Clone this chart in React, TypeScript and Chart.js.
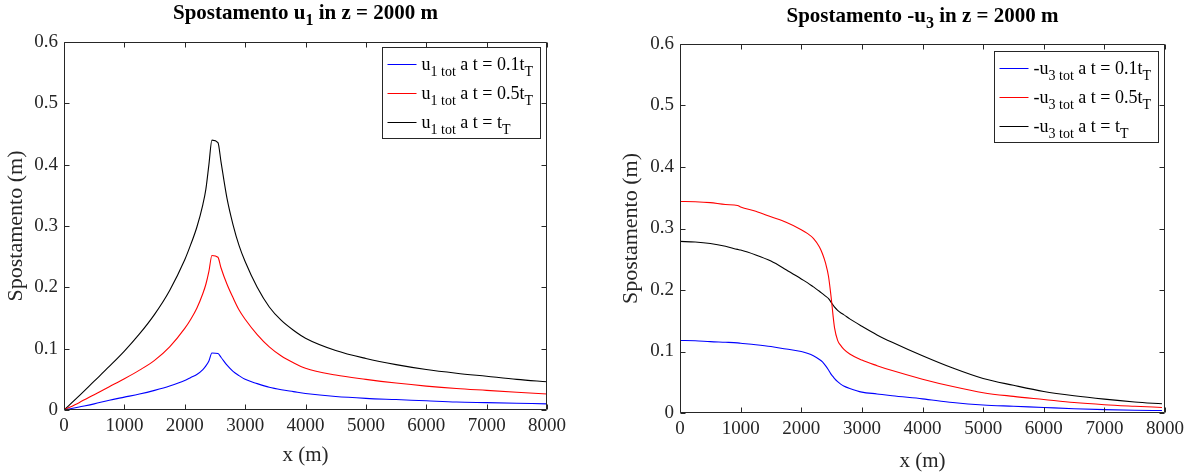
import React, { useEffect, useRef } from 'react';
import { Chart, registerables } from 'chart.js';
Chart.register(...registerables);

// ---------- DATA ----------
const xLeft = [0, 250, 500, 750, 1000, 1250, 1500, 1750, 2000, 2100, 2200, 2300, 2350, 2400, 2450, 2550, 2600, 2700, 2800, 2900, 3000, 3200, 3400, 3600, 3800, 4000, 4500, 5000, 5500, 6000, 6500, 7000, 7500, 8000];
const u1_01 = [0, 0.005, 0.010, 0.016, 0.021, 0.026, 0.032, 0.039, 0.048, 0.053, 0.058, 0.066, 0.072, 0.080, 0.093, 0.092, 0.086, 0.073, 0.063, 0.056, 0.050, 0.043, 0.037, 0.033, 0.030, 0.027, 0.022, 0.019, 0.017, 0.015, 0.013, 0.012, 0.011, 0.010];
const u1_05 = [0, 0.012, 0.025, 0.038, 0.051, 0.065, 0.081, 0.103, 0.133, 0.148, 0.166, 0.190, 0.205, 0.226, 0.252, 0.249, 0.232, 0.205, 0.183, 0.163, 0.148, 0.123, 0.103, 0.088, 0.077, 0.068, 0.057, 0.050, 0.044, 0.039, 0.035, 0.032, 0.029, 0.026];
const u1_10 = [0, 0.023, 0.047, 0.071, 0.096, 0.124, 0.156, 0.195, 0.245, 0.270, 0.298, 0.335, 0.360, 0.400, 0.440, 0.436, 0.405, 0.345, 0.302, 0.268, 0.242, 0.200, 0.168, 0.146, 0.130, 0.117, 0.097, 0.084, 0.074, 0.066, 0.060, 0.055, 0.050, 0.046];

const xRight = [0, 250, 500, 750, 950, 1000, 1250, 1500, 1750, 2000, 2100, 2200, 2300, 2350, 2400, 2450, 2500, 2525, 2550, 2600, 2650, 2700, 2800, 3000, 3250, 3500, 4000, 4500, 5000, 5500, 6000, 6500, 7000, 7500, 7950];
const u3_01 = [0.118, 0.1175, 0.116, 0.115, 0.114, 0.1135, 0.111, 0.108, 0.104, 0.100, 0.097, 0.093, 0.087, 0.083, 0.077, 0.070, 0.062, 0.059, 0.056, 0.051, 0.047, 0.044, 0.040, 0.034, 0.031, 0.028, 0.023, 0.017, 0.013, 0.011, 0.009, 0.007, 0.0055, 0.0045, 0.004];
const u3_05 = [0.344, 0.3435, 0.342, 0.339, 0.3375, 0.335, 0.328, 0.319, 0.310, 0.298, 0.292, 0.284, 0.270, 0.259, 0.244, 0.222, 0.182, 0.158, 0.138, 0.118, 0.110, 0.104, 0.096, 0.086, 0.077, 0.069, 0.055, 0.043, 0.033, 0.027, 0.022, 0.017, 0.0135, 0.011, 0.009];
const u3_10 = [0.279, 0.278, 0.2755, 0.271, 0.266, 0.265, 0.257, 0.247, 0.233, 0.218, 0.212, 0.205, 0.198, 0.194, 0.190, 0.186, 0.179, 0.1755, 0.172, 0.167, 0.163, 0.160, 0.153, 0.141, 0.127, 0.115, 0.093, 0.073, 0.056, 0.045, 0.035, 0.028, 0.0225, 0.018, 0.015];

const colors = ['#0000FF', '#FF0000', '#000000'];
const legendLeft = ['u_{1 tot} a t = 0.1t_T', 'u_{1 tot} a t = 0.5t_T', 'u_{1 tot} a t = t_T'];
const legendRight = ['-u_{3 tot} a t = 0.1t_T', '-u_{3 tot} a t = 0.5t_T', '-u_{3 tot} a t = t_T'];
const titleLeft = 'Spostamento u_1 in z = 2000 m';
const titleRight = 'Spostamento -u_3 in z = 2000 m';
const xTicks = [0, 1000, 2000, 3000, 4000, 5000, 6000, 7000, 8000];
const yTicks = [0, 0.1, 0.2, 0.3, 0.4, 0.5, 0.6];
const xLabel = 'x (m)';
const yLabel = 'Spostamento (m)';

// ---------- HELPERS ----------
const FONT = "'Liberation Serif', 'Times New Roman', serif";
const AX = '#262626';

type Seg = { t: string; sub: boolean };
function parseTex(s: string): Seg[] {
  const out: Seg[] = [];
  let i = 0;
  let buf = '';
  while (i < s.length) {
    if (s[i] === '_') {
      if (buf) { out.push({ t: buf, sub: false }); buf = ''; }
      if (s[i + 1] === '{') {
        const j = s.indexOf('}', i);
        out.push({ t: s.slice(i + 2, j), sub: true });
        i = j + 1;
      } else {
        out.push({ t: s[i + 1], sub: true });
        i += 2;
      }
    } else {
      buf += s[i];
      i++;
    }
  }
  if (buf) out.push({ t: buf, sub: false });
  return out;
}

function texWidth(ctx: CanvasRenderingContext2D, segs: Seg[], size: number, subSize: number, bold: boolean) {
  let w = 0;
  segs.forEach((s) => {
    ctx.font = `${bold ? 'bold ' : ''}${s.sub ? subSize : size}px ${FONT}`;
    w += ctx.measureText(s.t).width;
  });
  return w;
}

function drawTex(ctx: CanvasRenderingContext2D, segs: Seg[], x: number, y: number, size: number, subSize: number, bold: boolean, subDy: number, center: boolean) {
  const w = texWidth(ctx, segs, size, subSize, bold);
  let cx = center ? x - w / 2 : x;
  ctx.textAlign = 'left';
  ctx.textBaseline = 'alphabetic';
  segs.forEach((s) => {
    ctx.font = `${bold ? 'bold ' : ''}${s.sub ? subSize : size}px ${FONT}`;
    ctx.fillText(s.t, cx, y + (s.sub ? subDy : 0));
    cx += ctx.measureText(s.t).width;
  });
}

type Cfg = {
  xs: number[];
  series: number[][];
  legend: string[];
  title: string;
  width: number;
  yAxisW: number;
  xAxisH: number;
  padRight: number;
  padTop: number;
  yTitlePad: number;
  xTitlePad: number;
  titleY: number;
  legendTop: number;
};

function makeChart(canvas: HTMLCanvasElement, c: Cfg) {
  const frame = {
    id: 'matlabFrame',
    afterDraw(chart: any) {
      const ctx: CanvasRenderingContext2D = chart.ctx;
      const { left, right, top, bottom } = chart.chartArea;
      const xs = chart.scales.x;
      const ys = chart.scales.y;
      ctx.save();
      ctx.strokeStyle = AX;
      ctx.lineWidth = 1;
      ctx.beginPath();
      const L = Math.round(left) + 0.5, R = Math.round(right) - 0.5, T = Math.round(top) + 0.5, B = Math.round(bottom) - 0.5;
      ctx.rect(L, T, R - L, B - T);
      const tl = 5;
      xTicks.forEach((v) => {
        const px = Math.round(xs.getPixelForValue(v)) + 0.5;
        ctx.moveTo(px, B); ctx.lineTo(px, B - tl);
        ctx.moveTo(px, T); ctx.lineTo(px, T + tl);
      });
      yTicks.forEach((v) => {
        const py = Math.round(ys.getPixelForValue(v)) + 0.5;
        ctx.moveTo(L, py); ctx.lineTo(L + tl, py);
        ctx.moveTo(R, py); ctx.lineTo(R - tl, py);
      });
      ctx.stroke();

      // title
      ctx.fillStyle = '#000';
      drawTex(ctx, parseTex(c.title), (left + right) / 2, c.titleY, 21, 16, true, 6, true);

      // legend
      const segsList = c.legend.map(parseTex);
      const maxW = Math.max(...segsList.map((s) => texWidth(ctx, s, 18, 14, false)));
      const boxW = Math.round(41 + maxW + 6);
      const rowH = 29;
      const boxH = 91;
      const bx = Math.round(right - 7 - boxW) + 0.5;
      const by = Math.round(top + c.legendTop) + 0.5;
      ctx.fillStyle = '#fff';
      ctx.fillRect(bx, by, boxW, boxH);
      ctx.strokeStyle = AX;
      ctx.strokeRect(bx, by, boxW, boxH);
      segsList.forEach((segs, i) => {
        const cy = by + 16 + i * rowH;
        ctx.strokeStyle = colors[i];
        ctx.beginPath();
        ctx.moveTo(bx + 5, Math.round(cy) + 0.5);
        ctx.lineTo(bx + 34, Math.round(cy) + 0.5);
        ctx.stroke();
        ctx.fillStyle = '#000';
        drawTex(ctx, segs, bx + 39, cy + 6, 18, 14, false, 6, false);
      });
      ctx.restore();
    },
  };

  return new Chart(canvas, {
    type: 'line',
    data: {
      datasets: c.series.map((s, i) => ({
        label: c.legend[i],
        data: c.xs.map((x, j) => ({ x, y: s[j] })),
        borderColor: colors[i],
        borderWidth: 1.1,
        pointRadius: 0,
        fill: false,
        cubicInterpolationMode: 'monotone' as const,
      })),
    },
    options: {
      responsive: false,
      animation: false,
      devicePixelRatio: 1,
      layout: { padding: { left: 0, right: c.padRight, top: c.padTop, bottom: 0 } },
      plugins: { legend: { display: false }, tooltip: { enabled: false }, title: { display: false } },
      scales: {
        x: {
          type: 'linear',
          min: 0,
          max: 8000,
          afterBuildTicks: (s: any) => { s.ticks = xTicks.map((v) => ({ value: v })); },
          afterFit: (s: any) => { s.height = c.xAxisH; },
          ticks: { color: AX, font: { family: FONT, size: 19 }, padding: 5, maxRotation: 0, autoSkip: false, callback: (v: any) => String(v) },
          grid: { display: false, drawTicks: false },
          border: { display: false },
          title: { display: true, text: xLabel, color: AX, font: { family: FONT, size: 21 }, padding: { top: 0, bottom: c.xTitlePad } },
        },
        y: {
          type: 'linear',
          min: 0,
          max: 0.6,
          afterBuildTicks: (s: any) => { s.ticks = yTicks.map((v) => ({ value: v })); },
          afterFit: (s: any) => { s.width = c.yAxisW; },
          ticks: { color: AX, font: { family: FONT, size: 19 }, padding: 6, autoSkip: false, callback: (v: any) => (v === 0 ? '0' : Number(v).toFixed(1)) },
          grid: { display: false, drawTicks: false },
          border: { display: false },
          title: { display: true, text: yLabel, color: AX, font: { family: FONT, size: 22 }, padding: { top: c.yTitlePad, bottom: 0 } },
        },
      },
    },
    plugins: [frame],
  } as any);
}

function Panel({ cfg, left }: { cfg: Cfg; left: number }) {
  const ref = useRef<HTMLCanvasElement | null>(null);
  useEffect(() => {
    if (!ref.current) return;
    const ch = makeChart(ref.current, cfg);
    return () => ch.destroy();
  }, []);
  return (
    <canvas
      ref={ref}
      width={cfg.width}
      height={475}
      style={{ position: 'absolute', left, top: 0, width: cfg.width, height: 475 }}
    />
  );
}

const leftCfg: Cfg = {
  xs: xLeft,
  series: [u1_01, u1_05, u1_10],
  legend: legendLeft,
  title: titleLeft,
  width: 600,
  yAxisW: 64,
  xAxisH: 65,
  padRight: 53,
  padTop: 42,
  yTitlePad: 3,
  xTitlePad: 7,
  titleY: 19,
  legendTop: 5,
};

const rightCfg: Cfg = {
  xs: xRight,
  series: [u3_01, u3_05, u3_10],
  legend: legendRight,
  title: titleRight,
  width: 599,
  yAxisW: 80,
  xAxisH: 62,
  padRight: 34,
  padTop: 44,
  yTitlePad: 18,
  xTitlePad: 1,
  titleY: 22,
  legendTop: 7,
};

export default function App() {
  return (
    <div style={{ position: 'absolute', left: 0, top: 0, width: 1199, height: 475, background: '#fff', overflow: 'hidden' }}>
      <Panel cfg={leftCfg} left={0} />
      <Panel cfg={rightCfg} left={600} />
    </div>
  );
}
